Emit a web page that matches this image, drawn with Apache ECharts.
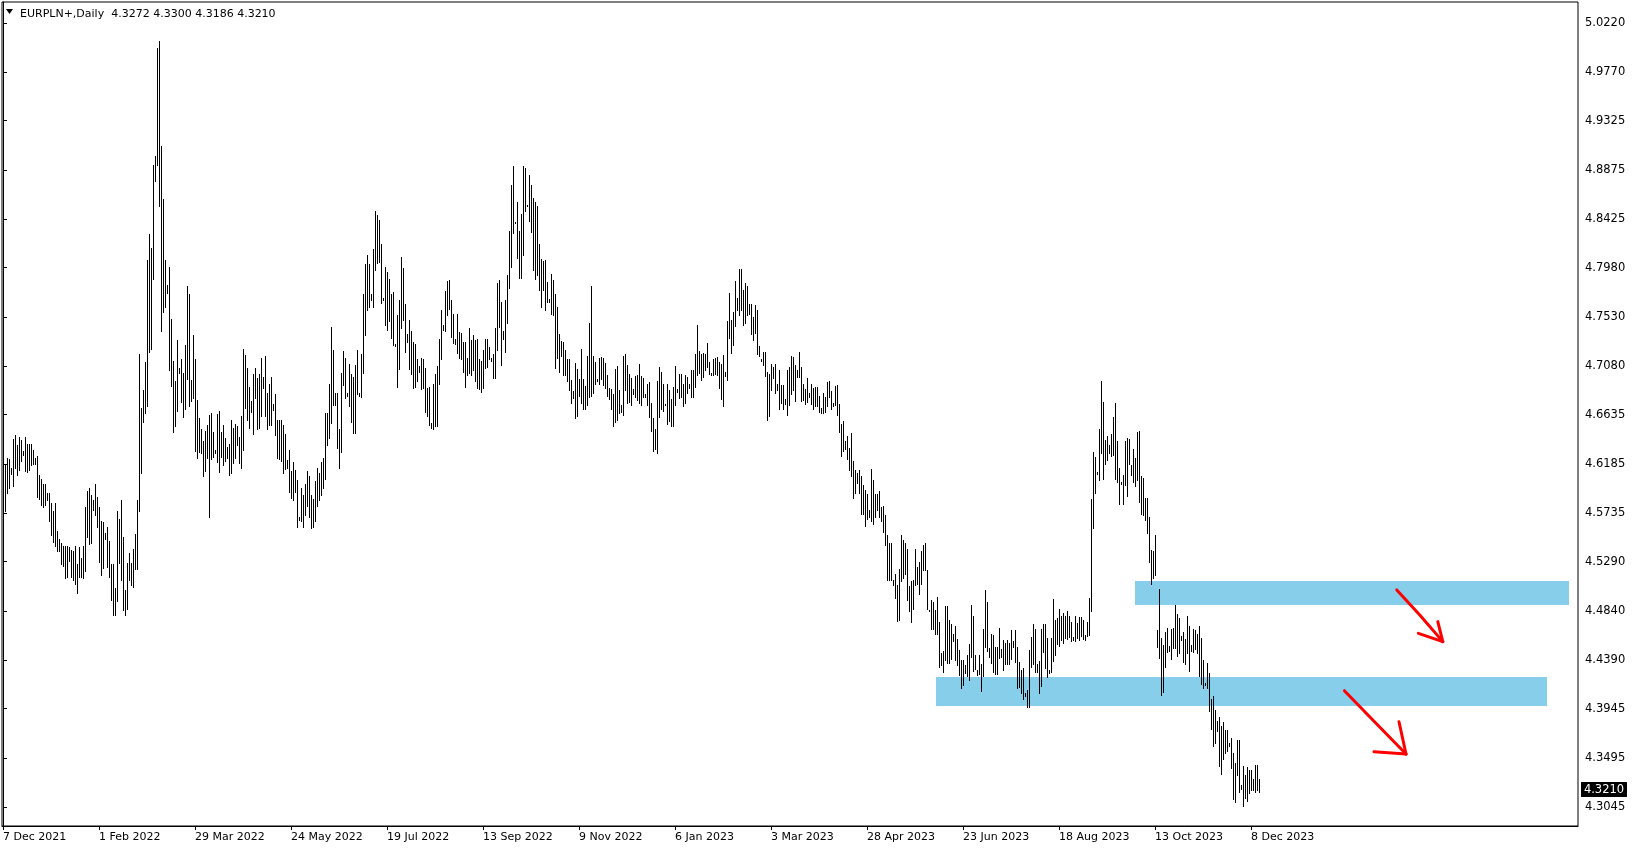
<!DOCTYPE html>
<html><head><meta charset="utf-8">
<script src="https://cdn.jsdelivr.net/npm/echarts@6/dist/echarts.min.js"></script>
<style>html,body{margin:0;padding:0;background:#fff}#c{width:1635px;height:850px}</style>
</head><body><div id="c"></div>
<script>
const symbolName = 'EURPLN+,Daily';
const lastBar = [4.3272, 4.3300, 4.3186, 4.3210]; // open high low close of the last bar

const highs = [
4.602,4.618,4.624,4.623,4.615,4.641,4.645,4.636,4.643,4.640,
4.630,4.643,4.637,4.637,4.637,4.631,4.624,4.626,4.608,4.605,
4.600,4.600,4.592,4.592,4.583,4.575,4.583,4.557,4.550,4.546,
4.543,4.543,4.543,4.542,4.540,4.539,4.543,4.527,4.542,4.532,
4.543,4.579,4.594,4.596,4.590,4.585,4.600,4.588,4.579,4.566,
4.565,4.555,4.561,4.548,4.527,4.527,4.505,4.575,4.568,4.585,
4.552,4.503,4.528,4.537,4.528,4.541,4.554,4.585,4.719,4.670,
4.686,4.712,4.805,4.829,4.816,4.892,4.900,4.999,5.005,4.909,
4.861,4.805,4.782,4.799,4.751,4.713,4.694,4.732,4.706,4.714,
4.702,4.727,4.781,4.774,4.695,4.736,4.714,4.677,4.660,4.650,
4.639,4.649,4.654,4.663,4.665,4.648,4.631,4.664,4.667,4.648,
4.654,4.642,4.634,4.637,4.659,4.651,4.655,4.653,4.643,4.662,
4.724,4.718,4.706,4.689,4.676,4.701,4.706,4.697,4.701,4.715,
4.698,4.717,4.683,4.692,4.698,4.673,4.682,4.659,4.659,4.659,
4.654,4.646,4.622,4.631,4.612,4.620,4.613,4.604,4.570,4.596,
4.590,4.600,4.612,4.607,4.590,4.586,4.603,4.615,4.610,4.620,
4.624,4.665,4.665,4.692,4.744,4.723,4.683,4.683,4.650,4.702,
4.722,4.715,4.683,4.710,4.701,4.698,4.709,4.723,4.683,4.719,
4.774,4.801,4.810,4.801,4.774,4.815,4.850,4.846,4.842,4.820,
4.770,4.799,4.794,4.788,4.774,4.776,4.728,4.755,4.768,4.808,
4.798,4.765,4.737,4.750,4.740,4.730,4.728,4.714,4.708,4.715,
4.714,4.706,4.688,4.689,4.656,4.692,4.701,4.708,4.733,4.759,
4.746,4.777,4.786,4.787,4.768,4.756,4.733,4.756,4.739,4.738,
4.730,4.730,4.715,4.743,4.732,4.736,4.732,4.733,4.714,4.713,
4.723,4.733,4.733,4.725,4.715,4.719,4.743,4.784,4.787,4.767,
4.740,4.768,4.791,4.832,4.874,4.891,4.840,4.858,4.832,4.847,
4.891,4.889,4.855,4.883,4.874,4.862,4.858,4.854,4.820,4.806,
4.804,4.805,4.785,4.769,4.792,4.787,4.774,4.762,4.737,4.731,
4.730,4.723,4.714,4.714,4.695,4.685,4.711,4.705,4.696,4.724,
4.696,4.690,4.717,4.747,4.781,4.717,4.712,4.696,4.715,4.716,
4.715,4.711,4.700,4.688,4.687,4.682,4.705,4.708,4.686,4.672,
4.717,4.719,4.709,4.701,4.697,4.687,4.699,4.700,4.710,4.699,
4.697,4.682,4.692,4.693,4.674,4.660,4.650,4.694,4.707,4.703,
4.692,4.673,4.692,4.686,4.678,4.689,4.708,4.687,4.701,4.701,
4.692,4.700,4.698,4.692,4.704,4.704,4.719,4.746,4.722,4.719,
4.720,4.719,4.729,4.712,4.702,4.714,4.715,4.716,4.712,4.710,
4.718,4.703,4.749,4.775,4.750,4.757,4.786,4.770,4.797,4.797,
4.778,4.784,4.781,4.765,4.765,4.753,4.764,4.759,4.726,4.714,
4.721,4.721,4.703,4.701,4.710,4.707,4.710,4.692,4.704,4.691,
4.691,4.678,4.704,4.707,4.717,4.716,4.709,4.704,4.721,4.707,
4.692,4.687,4.697,4.683,4.692,4.688,4.689,4.689,4.681,4.670,
4.683,4.680,4.693,4.694,4.685,4.674,4.690,4.691,4.673,4.655,
4.658,4.639,4.644,4.633,4.647,4.621,4.613,4.610,4.613,4.607,
4.599,4.595,4.591,4.576,4.614,4.604,4.591,4.591,4.594,4.579,
4.580,4.572,4.553,4.546,4.546,4.512,4.518,4.508,4.522,4.553,
4.549,4.546,4.541,4.507,4.511,4.512,4.541,4.524,4.529,4.539,
4.544,4.546,4.521,4.485,4.494,4.492,4.485,4.497,4.474,4.445,
4.447,4.488,4.488,4.476,4.472,4.463,4.470,4.458,4.448,4.439,
4.439,4.434,4.444,4.454,4.489,4.479,4.444,4.430,4.444,4.435,
4.467,4.503,4.492,4.450,4.463,4.462,4.451,4.451,4.468,4.449,
4.457,4.455,4.457,4.455,4.466,4.456,4.466,4.451,4.437,4.430,
4.432,4.409,4.412,4.448,4.460,4.472,4.467,4.435,4.438,4.467,
4.472,4.472,4.459,4.430,4.459,4.495,4.476,4.477,4.486,4.479,
4.482,4.479,4.484,4.479,4.474,4.460,4.479,4.473,4.478,4.478,
4.476,4.462,4.474,4.496,4.586,4.629,4.625,4.611,4.650,4.694,
4.675,4.640,4.644,4.636,4.646,4.661,4.674,4.639,4.615,4.6015,
4.608,4.639,4.642,4.641,4.617,4.632,4.624,4.648,4.649,4.607,
4.606,4.587,4.587,4.570,4.540,4.539,4.553,4.466,4.504,4.459,
4.453,4.465,4.468,4.452,4.467,4.468,4.489,4.481,4.477,4.461,
4.465,4.458,4.479,4.470,4.453,4.467,4.466,4.463,4.470,4.459,
4.439,4.418,4.436,4.427,4.403,4.406,4.393,4.383,4.387,4.379,
4.382,4.375,4.375,4.363,4.368,4.354,4.345,4.366,4.366,4.325,
4.342,4.334,4.341,4.338,4.338,4.330,4.343,4.343,4.3300
];

const lows = [
4.570,4.575,4.592,4.596,4.609,4.598,4.615,4.608,4.613,4.621,
4.627,4.612,4.611,4.613,4.617,4.618,4.618,4.588,4.586,4.581,
4.579,4.581,4.585,4.566,4.553,4.547,4.543,4.539,4.539,4.527,
4.525,4.514,4.515,4.530,4.515,4.512,4.509,4.500,4.515,4.515,
4.514,4.520,4.552,4.545,4.546,4.576,4.572,4.561,4.529,4.517,
4.523,4.550,4.524,4.515,4.494,4.480,4.480,4.493,4.528,4.512,
4.485,4.480,4.486,4.512,4.508,4.506,4.522,4.522,4.575,4.610,
4.657,4.665,4.671,4.721,4.724,4.788,4.877,4.892,4.854,4.740,
4.757,4.762,4.775,4.704,4.690,4.648,4.653,4.667,4.702,4.675,
4.661,4.669,4.696,4.671,4.676,4.679,4.630,4.624,4.629,4.628,
4.607,4.612,4.624,4.570,4.623,4.625,4.628,4.620,4.611,4.625,
4.617,4.621,4.624,4.608,4.610,4.619,4.624,4.636,4.619,4.615,
4.631,4.670,4.659,4.651,4.666,4.646,4.679,4.650,4.651,4.662,
4.688,4.662,4.650,4.654,4.654,4.668,4.645,4.624,4.623,4.621,
4.610,4.614,4.615,4.593,4.587,4.585,4.593,4.561,4.567,4.566,
4.561,4.572,4.580,4.570,4.560,4.561,4.566,4.580,4.585,4.590,
4.596,4.605,4.636,4.642,4.656,4.672,4.672,4.633,4.615,4.629,
4.691,4.679,4.681,4.671,4.657,4.647,4.647,4.682,4.681,4.680,
4.702,4.736,4.759,4.762,4.768,4.762,4.796,4.802,4.803,4.766,
4.768,4.746,4.741,4.749,4.734,4.727,4.726,4.689,4.705,4.743,
4.750,4.721,4.730,4.705,4.701,4.688,4.689,4.694,4.703,4.687,
4.688,4.666,4.662,4.654,4.651,4.650,4.653,4.653,4.692,4.714,
4.741,4.740,4.755,4.760,4.735,4.729,4.728,4.720,4.715,4.714,
4.703,4.689,4.700,4.702,4.700,4.704,4.694,4.688,4.687,4.684,
4.688,4.706,4.707,4.714,4.713,4.697,4.697,4.723,4.744,4.709,
4.733,4.721,4.747,4.779,4.799,4.830,4.839,4.807,4.789,4.789,
4.810,4.850,4.854,4.841,4.831,4.796,4.788,4.791,4.778,4.762,
4.778,4.759,4.767,4.767,4.756,4.755,4.706,4.715,4.703,4.717,
4.700,4.700,4.694,4.686,4.674,4.679,4.660,4.662,4.681,4.674,
4.669,4.669,4.672,4.680,4.681,4.683,4.692,4.694,4.692,4.696,
4.691,4.688,4.681,4.678,4.669,4.653,4.657,4.659,4.665,4.666,
4.663,4.686,4.674,4.675,4.672,4.682,4.680,4.677,4.674,4.672,
4.680,4.680,4.672,4.661,4.649,4.630,4.632,4.628,4.661,4.669,
4.667,4.672,4.655,4.658,4.653,4.653,4.672,4.684,4.679,4.680,
4.671,4.674,4.683,4.688,4.680,4.680,4.689,4.700,4.702,4.695,
4.698,4.704,4.707,4.701,4.700,4.700,4.701,4.700,4.688,4.678,
4.671,4.699,4.695,4.734,4.720,4.727,4.745,4.759,4.755,4.759,
4.746,4.747,4.755,4.756,4.737,4.732,4.738,4.719,4.717,4.713,
4.709,4.699,4.659,4.662,4.686,4.697,4.683,4.686,4.669,4.674,
4.669,4.673,4.663,4.672,4.682,4.686,4.676,4.698,4.698,4.676,
4.677,4.673,4.675,4.680,4.673,4.669,4.671,4.671,4.666,4.665,
4.665,4.666,4.671,4.680,4.669,4.671,4.672,4.663,4.648,4.626,
4.630,4.632,4.623,4.613,4.607,4.587,4.592,4.601,4.592,4.573,
4.573,4.562,4.568,4.570,4.566,4.563,4.570,4.576,4.570,4.566,
4.556,4.544,4.512,4.512,4.512,4.508,4.496,4.475,4.476,4.511,
4.514,4.518,4.494,4.484,4.474,4.486,4.508,4.509,4.499,4.509,
4.521,4.521,4.486,4.484,4.467,4.467,4.463,4.463,4.433,4.434,
4.428,4.439,4.436,4.436,4.440,4.456,4.439,4.434,4.425,4.413,
4.416,4.427,4.424,4.421,4.442,4.429,4.431,4.425,4.426,4.411,
4.424,4.451,4.447,4.442,4.436,4.428,4.426,4.426,4.441,4.442,
4.430,4.435,4.435,4.435,4.440,4.451,4.437,4.413,4.414,4.409,
4.403,4.406,4.396,4.396,4.433,4.435,4.428,4.428,4.409,4.415,
4.446,4.432,4.423,4.427,4.428,4.438,4.444,4.454,4.452,4.457,
4.455,4.459,4.458,4.460,4.456,4.457,4.456,4.459,4.457,4.461,
4.458,4.457,4.461,4.462,4.484,4.560,4.592,4.609,4.604,4.628,
4.605,4.618,4.622,4.628,4.626,4.627,4.605,4.602,4.582,4.6005,
4.582,4.599,4.589,4.618,4.608,4.602,4.598,4.604,4.584,4.573,
4.572,4.567,4.555,4.529,4.509,4.514,4.517,4.451,4.441,4.407,
4.410,4.433,4.446,4.447,4.440,4.450,4.450,4.443,4.445,4.457,
4.437,4.435,4.445,4.429,4.447,4.446,4.449,4.445,4.424,4.417,
4.413,4.416,4.413,4.392,4.376,4.360,4.363,4.374,4.342,4.335,
4.348,4.354,4.356,4.360,4.340,4.312,4.309,4.334,4.318,4.321,
4.305,4.313,4.310,4.317,4.320,4.320,4.318,4.320,4.3186
];

// date labels on the time axis and the bar each one stands under
const tickLabels = ['7 Dec 2021','1 Feb 2022','29 Mar 2022','24 May 2022','19 Jul 2022','13 Sep 2022','9 Nov 2022','6 Jan 2023','3 Mar 2023','28 Apr 2023','23 Jun 2023','18 Aug 2023','13 Oct 2023','8 Dec 2023'];
const tickBars = [0,48,96,144,192,240,288,336,384,432,480,528,576,624];

// price scale labels
const priceLabels = [5.0220,4.9770,4.9325,4.8875,4.8425,4.7980,4.7530,4.7080,4.6635,4.6185,4.5735,4.5290,4.4840,4.4390,4.3945,4.3495,4.3045];

// drawn zones: [fromBar, toBar, topPrice, bottomPrice]
const zones = [
  [466.7, 771.9, 4.4235, 4.3969],
  [566.0, 783.0, 4.5113, 4.4893]
];
// hand drawn arrows: each is a list of polylines of [bar, price]
const arrows = [
  [ [[696.9,4.5031],[708.5,4.4800],[719.9,4.4558]], [[707.7,4.4634],[719.9,4.4558]], [[717.4,4.4741],[719.9,4.4558]] ],
  [ [[670.7,4.4109],[686.0,4.3820],[701.5,4.3530]], [[685.5,4.3551],[701.5,4.3530]], [[698.0,4.3825],[701.5,4.3530]] ]
];

const barData = highs.map((h, i) => [i, lows[i], h]);
const FONT = '"DejaVu Sans", Verdana, sans-serif';

const chart = echarts.init(document.getElementById('c'), null, {renderer: 'canvas'});
chart.setOption({
  animation: false,
  backgroundColor: '#ffffff',
  title: {
    text: symbolName + '  ' + lastBar.map(v => v.toFixed(4)).join(' '),
    left: 15, top: 4,
    textStyle: {fontFamily: FONT, fontSize: 11, fontWeight: 'normal', color: '#000'}
  },
  graphic: [{
    type: 'polygon', shape: {points: [[6, 9], [13, 9], [9.5, 14]]}, style: {fill: '#000'}
  }],
  grid: {left: 2, top: 2, width: 1576, height: 824, show: true, borderColor: '#000', borderWidth: 1, backgroundColor: '#fff'},
  xAxis: {
    type: 'value', min: -0.5, max: 787.5, position: 'bottom',
    axisLine: {show: true, lineStyle: {color: '#000', width: 1}},
    splitLine: {show: false},
    axisTick: {show: true, length: 4, customValues: tickBars, lineStyle: {color: '#000'}},
    axisLabel: {
      customValues: tickBars, align: 'left', margin: 6, color: '#000',
      fontFamily: FONT, fontSize: 11,
      formatter: v => tickLabels[tickBars.indexOf(Math.round(v))]
    }
  },
  yAxis: {
    type: 'value', min: 4.28710, max: 5.04113, position: 'right',
    axisLine: {show: true, lineStyle: {color: '#000', width: 1}},
    splitLine: {show: false},
    axisTick: {show: true, length: 4, customValues: priceLabels, lineStyle: {color: '#000'}},
    axisLabel: {
      customValues: priceLabels, margin: 7, color: '#000',
      fontFamily: FONT, fontSize: 11.5, padding: [3, 0, 0, 0],
      formatter: v => v.toFixed(4)
    }
  },
  series: [
    {
      type: 'custom', name: 'zones', z: 1, clip: true,
      data: zones,
      renderItem: (params, api) => {
        const a = api.coord([api.value(0), api.value(2)]);
        const b = api.coord([api.value(1), api.value(3)]);
        return {type: 'rect', shape: {x: Math.round(a[0]), y: Math.round(a[1]), width: Math.round(b[0]) - Math.round(a[0]), height: Math.round(b[1]) - Math.round(a[1])}, style: {fill: '#87CEEB'}};
      }
    },
    {
      type: 'custom', name: 'bars', z: 3, clip: true,
      data: barData,
      renderItem: (params, api) => {
        const i = api.value(0);
        const top = api.coord([i, api.value(2)]);
        const bot = api.coord([i, api.value(1)]);
        const x = Math.floor(top[0]) + 0.5;
        const y1 = Math.round(top[1]);
        let y2 = Math.round(bot[1]) + 1;
        if (y2 - y1 < 2) y2 = y1 + 2;
        return {type: 'line', shape: {x1: x, y1: y1, x2: x, y2: y2}, style: {stroke: '#000', lineWidth: 1, lineCap: 'butt'}};
      }
    },
    {
      type: 'custom', name: 'arrows', z: 4, clip: false,
      data: arrows.map((a, k) => [k]),
      renderItem: (params, api) => {
        const polys = arrows[params.dataIndex];
        return {
          type: 'group',
          children: polys.map(pl => ({
            type: 'polyline',
            shape: {points: pl.map(p => api.coord(p))},
            style: {stroke: '#ff0000', lineWidth: 3, fill: null, lineJoin: 'round', lineCap: 'round'}
          }))
        };
      }
    },
    {
      type: 'custom', name: 'priceTag', z: 5, clip: false,
      data: [[787.5, lastBar[3]]],
      renderItem: (params, api) => {
        const p = api.coord([api.value(0), api.value(1)]);
        const y = Math.round(p[1]);
        return {
          type: 'group',
          children: [
            {type: 'rect', shape: {x: 1581, y: y - 7, width: 46, height: 15}, style: {fill: '#000'}},
            {type: 'text', style: {x: 1604, y: y + 1, text: api.value(1).toFixed(4), fill: '#fff', font: '11.5px ' + FONT, textAlign: 'center', textVerticalAlign: 'middle'}}
          ]
        };
      }
    }
  ]
});
</script>
</body></html>
